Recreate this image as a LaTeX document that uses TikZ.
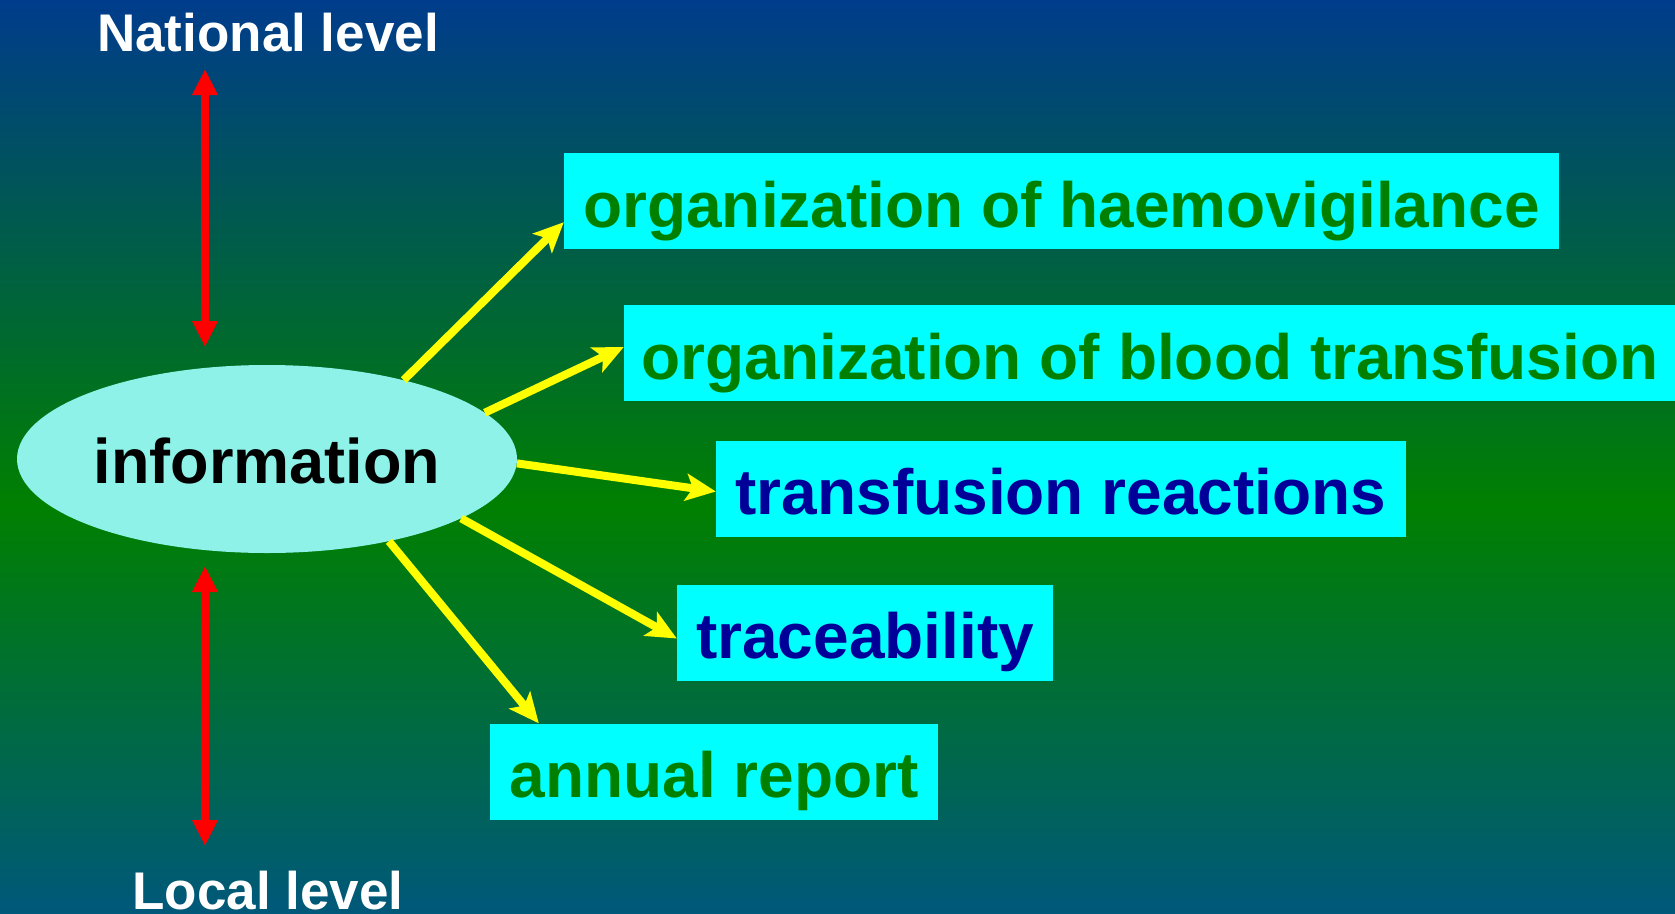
\documentclass[tikz,border=0pt]{standalone}
\usepackage{fontspec}
\setmainfont{Liberation Sans}
\usetikzlibrary{arrows.meta,shapes.geometric}

\definecolor{bgtop}{RGB}{0,60,140}
\definecolor{bgmid}{RGB}{0,128,0}
\definecolor{bgbot}{RGB}{0,88,122}
\definecolor{boxcyan}{RGB}{0,255,255}
\definecolor{ellfill}{RGB}{142,242,232}
\definecolor{txtgreen}{RGB}{0,128,0}
\definecolor{txtnavy}{RGB}{0,0,153}
\definecolor{arrred}{RGB}{255,0,0}
\definecolor{arryellow}{RGB}{255,255,0}

\tikzset{
  levellabel/.style={text=white, font=\bfseries\fontsize{53}{60}\selectfont, inner sep=0pt, anchor=base},
  topicbox/.style={fill=boxcyan, inner sep=0pt, text height=52pt, text depth=0pt,
    minimum height=96pt, font=\bfseries\fontsize{64}{70}\selectfont},
  greentopic/.style={topicbox, text=txtgreen},
  navytopic/.style={topicbox, text=txtnavy},
  infoell/.style={ellipse, fill=ellfill, inner sep=0pt, minimum width=500pt, minimum height=188pt,
    text height=48pt, text depth=0pt, font=\bfseries\fontsize{63}{70}\selectfont},
  levelarrow/.style={draw=arrred, line width=8pt, {Triangle[length=26pt,width=24pt]}-{Triangle[length=26pt,width=24pt]}},
  topicarrow/.style={draw=arryellow, line width=8pt, -{Stealth[length=30pt,width=27pt,inset=7pt]}}
}

\begin{document}
\begin{tikzpicture}[x=1pt, y=-1pt]
  % background: blue at the top, green band, teal blue at the bottom
  \useasboundingbox (0,0) rectangle (1675,913);
  \shade[top color=bgtop, bottom color=bgmid] (0,0) rectangle (1675,506);
  \shade[top color=bgmid, bottom color=bgbot] (0,505) rectangle (1675,913);

  % level labels
  \node[levellabel] (national) at (268,51) {National level};
  \node[levellabel] (local) at (268,909) {Local level};

  % central ellipse
  \node[infoell] (info) at (267,459) {information};

  % topics
  \node[greentopic, minimum width=995pt]  (haemo)  at (1061.5,201)  {organization of haemovigilance};
  \node[greentopic, minimum width=1052pt] (blood)  at (1150,353)    {organization of blood transfusion};
  \node[navytopic,  minimum width=690pt]  (react)  at (1061,488.5)  {transfusion reactions};
  \node[navytopic,  minimum width=376pt]  (trace)  at (865,632.5)   {traceability};
  \node[greentopic, minimum width=448pt]  (annual) at (714,771.5)   {annual report};

  % vertical double arrows between levels
  \coordinate (upA) at (205,69);
  \coordinate (upB) at (205,347);
  \coordinate (loA) at (205,566);
  \coordinate (loB) at (205,846);
  \draw[levelarrow] (upA) -- (upB);
  \draw[levelarrow] (loA) -- (loB);

  % arrows from information to each topic
  \draw[topicarrow] (info.30.5) -- ([yshift=27pt]haemo.south west);
  \draw[topicarrow] (info.12.6) -- ([yshift=6pt]blood.west);
  \draw[topicarrow] (info.-1.4) -- ([yshift=-3pt]react.west);
  \draw[topicarrow] (info.-17.8) -- ([yshift=-6pt]trace.west);
  \draw[topicarrow] (info.-34.7) -- ([xshift=49pt]annual.north west);
\end{tikzpicture}
\end{document}
